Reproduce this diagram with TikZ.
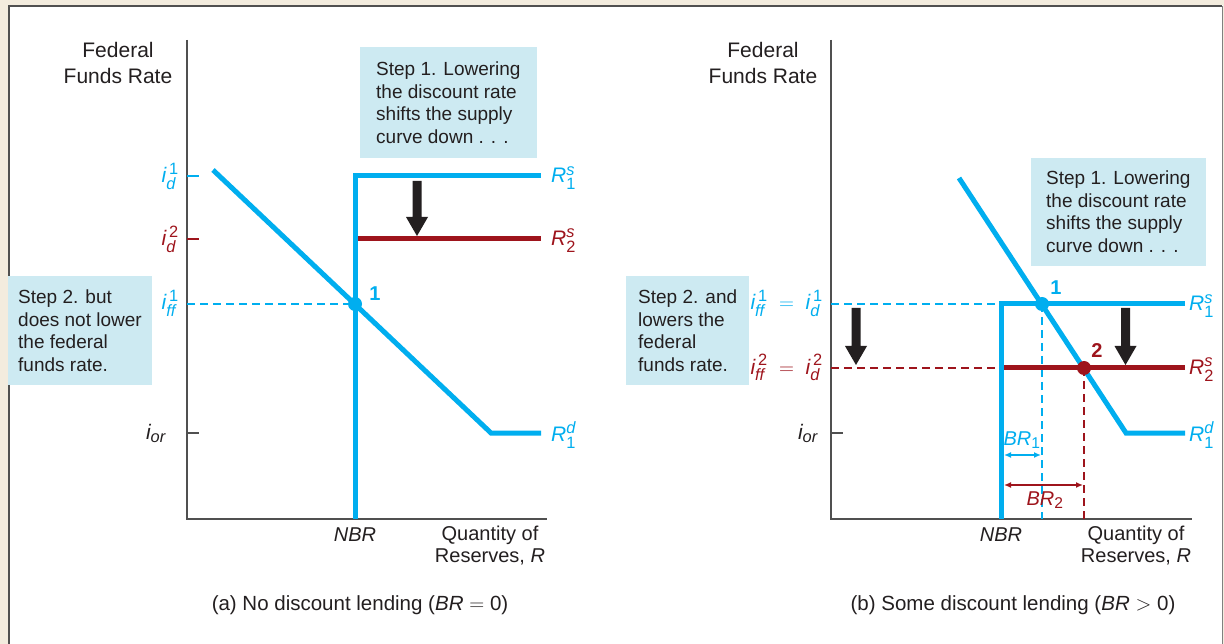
\documentclass[tikz,border=0pt]{standalone}
\usepackage{amsmath}
\usepackage{fontspec}
\setmainfont{Liberation Sans}
\usetikzlibrary{arrows.meta}
\renewcommand{\defaultscriptratio}{.78}
\definecolor{cy}{RGB}{0,174,239}
\definecolor{dr}{RGB}{158,20,28}
\definecolor{bx}{RGB}{205,234,242}
\definecolor{bg}{RGB}{243,236,222}
\definecolor{ax}{RGB}{80,80,80}
\definecolor{tx}{RGB}{35,31,32}
\newcommand{\fsz}[1]{\fontsize{#1}{#1}\selectfont}
\tikzset{
  axis/.style={ax, line width=2pt},
  cyc/.style={cy, line width=5pt},
  drc/.style={dr, line width=5pt},
  cydash/.style={cy, line width=1.5pt, dash pattern=on 8pt off 5pt},
  drdash/.style={dr, line width=1.5pt, dash pattern=on 8pt off 5pt},
  stepbox/.style={fill=bx, text=tx, align=left, anchor=north west, font=\fsz{19}, execute at begin node=\setlength{\baselineskip}{22.5pt}},
  axlab/.style={text=tx, align=center, font=\fsz{21}, execute at begin node=\setlength{\baselineskip}{26pt}},
  tlab/.style={font=\fsz{21}, anchor=base east, inner sep=0pt},
  rlab/.style={font=\fsz{21}, anchor=west, inner sep=0pt},
  dot/.style={circle, minimum size=14pt, inner sep=0pt},
  num/.style={font=\bfseries\fsz{20}, inner sep=0pt},
  captext/.style={text=tx, font=\fsz{20.5}},
  bigarr/.style={fill=tx},
}
\begin{document}
\begin{tikzpicture}[x=1pt,y=-1pt]
\useasboundingbox (0,0) rectangle (1224,644);
\fill[bg] (0,0) rectangle (1224,644);
\fill[white] (8,5) rectangle (1223,644);
\draw[ax, line width=2pt] (9,644) -- (9,6) -- (1222,6);
\draw[gray, line width=1pt] (1222.5,6) -- (1222.5,644);

% ================= Panel (a) =================
\coordinate (aTop) at (187,40);
\coordinate (aO) at (187,519);
\coordinate (aEnd) at (547,519);
\draw[axis] (aTop) -- (aO) -- (aEnd);
\node[axlab] (aY) at (118,63) {Federal\\Funds Rate};

% ticks
\draw[cy, line width=1.5pt] (187,176) -- (199,176);
\draw[dr, line width=1.5pt] (187,239) -- (199,239);
\draw[ax, line width=1.5pt] (187,433) -- (199,433);
\node[tlab, text=cy] (aid1) at (179,183) {$\textit{i}_{\textit{d}}^{\,\textup{1}}$};
\node[tlab, text=dr] (aid2) at (179,246) {$\textit{i}_{\textit{d}}^{\,\textup{2}}$};
\node[tlab, text=cy] (aiff) at (179,310) {$\textit{i}_{\textit{ff}}^{\,\textup{1}}$};
\node[tlab, text=tx] (aior) at (166,439) {$\textit{i}_{\textit{or}}$};

% curves
\coordinate (aS0) at (355,519);
\coordinate (aS1) at (355,176);
\coordinate (aS2) at (541,176);
\coordinate (aR0) at (358,239);
\coordinate (aR1) at (541,239);
\coordinate (aD0) at (213,170);
\coordinate (aD1) at (491,433);
\coordinate (aD2) at (541,433);
\draw[cydash] (187,304) -- (355,304);
\draw[drc] (aR0) -- (aR1);
\draw[cyc] (aS0) -- (aS1) -- (aS2);
\draw[cyc] (aD0) -- (aD1) -- (aD2);
\node[dot, fill=cy] (ap1) at (355,304) {};
\node[num, text=cy] (an1) at (375,294) {1};
\node[rlab, text=cy] (aRs1) at (551,178) {$\textit{R}_{\textup{1}}^{\textit{s}}$};
\node[rlab, text=dr] (aRs2) at (551,241) {$\textit{R}_{\textup{2}}^{\textit{s}}$};
\node[rlab, text=cy] (aRd1) at (551,435) {$\textit{R}_{\textup{1}}^{\textit{d}}$};

% arrow
\fill[bigarr] (412.5,181) -- (421.5,181) -- (421.5,217) -- (428,217) -- (417,236) -- (406,217) -- (412.5,217) -- cycle;

\node[stepbox, inner xsep=16pt, inner ysep=14pt, minimum width=171pt, minimum height=111pt] (aStep1) at (360,47) {Step 1. Lowering\\the discount rate\\shifts the supply\\curve down . . .};
\node[stepbox, inner xsep=10pt, inner ysep=12pt, minimum width=143pt, minimum height=109pt] (aStep2) at (8,276) {Step 2. but\\does not lower\\the federal\\funds rate.};

\node[text=tx, font=\itshape\fsz{20}] (aNBR) at (355,535) {NBR};
\node[axlab, font=\fsz{20}, execute at begin node=\setlength{\baselineskip}{22pt}] (aQ) at (490,546) {Quantity of\\Reserves, \textit{R}};
\node[captext] (acap) at (360,605) {(a) No discount lending ($\textit{BR}=\textup{0}$)};

% ================= Panel (b) =================
\coordinate (bTop) at (831,40);
\coordinate (bO) at (831,519);
\coordinate (bEnd) at (1192,519);
\draw[axis] (bTop) -- (bO) -- (bEnd);
\node[axlab] (bY) at (763,63) {Federal\\Funds Rate};

\draw[ax, line width=1.5pt] (831,433) -- (843,433);
\node[tlab, text=cy] (bl1) at (823,310) {$\textit{i}_{\textit{ff}}^{\,\textup{1}}\;=\;\textit{i}_{\textit{d}}^{\,\textup{1}}$};
\node[tlab, text=dr] (bl2) at (823,374) {$\textit{i}_{\textit{ff}}^{\,\textup{2}}\;=\;\textit{i}_{\textit{d}}^{\,\textup{2}}$};
\node[tlab, text=tx] (bior) at (818,439) {$\textit{i}_{\textit{or}}$};

\coordinate (bS0) at (1001,519);
\coordinate (bS1) at (1001,304);
\coordinate (bS2) at (1185,304);
\coordinate (bR0) at (1001,368);
\coordinate (bR1) at (1185,368);
\coordinate (bD0) at (959,178);
\coordinate (bD1) at (1126,433);
\coordinate (bD2) at (1185,433);
\draw[cydash] (831,304) -- (1000,304);
\draw[drdash] (831,368) -- (1000,368);
\draw[cydash] (1042,304) -- (1042,519);
\draw[drdash] (1084,368) -- (1084,519);
\draw[drc] (bR0) -- (bR1);
\draw[cyc] (bS0) -- (bS1) -- (bS2);
\draw[cyc] (bD0) -- (bD1) -- (bD2);
\node[dot, fill=cy] (bp1) at (1042,304) {};
\node[dot, fill=dr] (bp2) at (1084,368) {};
\node[num, text=cy] (bn1) at (1056,288) {1};
\node[num, text=dr] (bn2) at (1097,351) {2};
\node[rlab, text=cy] (bRs1) at (1189,306) {$\textit{R}_{\textup{1}}^{\textit{s}}$};
\node[rlab, text=dr] (bRs2) at (1189,370) {$\textit{R}_{\textup{2}}^{\textit{s}}$};
\node[rlab, text=cy] (bRd1) at (1189,435) {$\textit{R}_{\textup{1}}^{\textit{d}}$};

\fill[bigarr] (851.5,308) -- (860.5,308) -- (860.5,346) -- (867,346) -- (856,365) -- (845,346) -- (851.5,346) -- cycle;
\fill[bigarr] (1121,308) -- (1130,308) -- (1130,346) -- (1136.5,346) -- (1125.5,365) -- (1114.5,346) -- (1121,346) -- cycle;

% BR arrows
\coordinate (br1a) at (1004,455);
\coordinate (br1b) at (1041,455);
\coordinate (br2a) at (1004,485);
\coordinate (br2b) at (1083,485);
\draw[cy, line width=1.5pt, {Latex[length=7pt,width=6pt]}-{Latex[length=7pt,width=6pt]}] (br1a) -- (br1b);
\draw[dr, line width=1.5pt, {Latex[length=7pt,width=6pt]}-{Latex[length=7pt,width=6pt]}] (br2a) -- (br2b);
\node[text=cy, font=\fsz{20}, inner sep=0pt] (bbr1) at (1022,440) {$\textit{BR}_{\textup{1}}$};
\node[text=dr, font=\fsz{20}, inner sep=0pt] (bbr2) at (1045,500) {$\textit{BR}_{\textup{2}}$};

\node[stepbox, inner xsep=15pt, inner ysep=13pt, minimum width=168pt, minimum height=105pt] (bStep1) at (1031,158) {Step 1. Lowering\\the discount rate\\shifts the supply\\curve down . . .};
\node[stepbox, inner xsep=12pt, inner ysep=12pt, minimum width=120pt, minimum height=109pt] (bStep2) at (626,276) {Step 2. and\\lowers the\\federal\\funds rate.};

\node[text=tx, font=\itshape\fsz{20}] (bNBR) at (1001,535) {NBR};
\node[axlab, font=\fsz{20}, execute at begin node=\setlength{\baselineskip}{22pt}] (bQ) at (1136,546) {Quantity of\\Reserves, \textit{R}};
\node[captext] (bcap) at (1013,605) {(b) Some discount lending ($\textit{BR}>\textup{0}$)};
\end{tikzpicture}
\end{document}
